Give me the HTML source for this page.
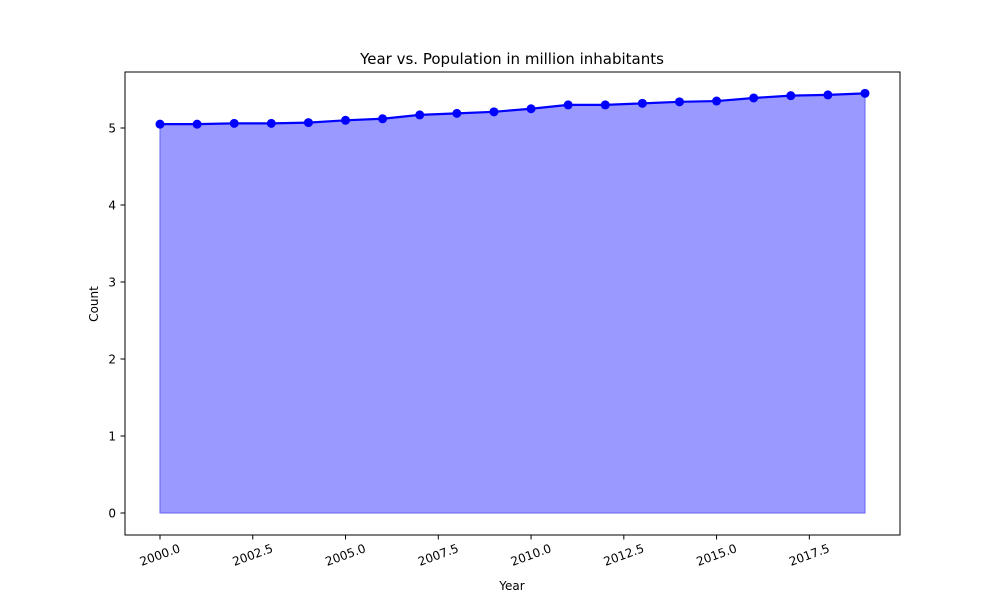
<!DOCTYPE html>
<html><head><meta charset="utf-8"><style>body{margin:0;background:#fff}svg text{font-family:"DejaVu Sans","Liberation Sans",sans-serif;fill:#000}</style></head>
<body>
<svg id="chart" width="1000" height="600">
<rect width="1000" height="600" fill="#fff"/>
<text x="512" y="64" text-anchor="middle" font-size="15">Year vs. Population in million inhabitants</text>
<g id="plot"></g>
<rect x="125" y="72" width="775" height="463" fill="none" stroke="#000" stroke-width="1"/>
<text x="512" y="590" text-anchor="middle" font-size="12">Year</text>
<text transform="translate(98,304) rotate(-90)" text-anchor="middle" font-size="12">Count</text>
</svg>
<script>
const years=[2000,2001,2002,2003,2004,2005,2006,2007,2008,2009,2010,2011,2012,2013,2014,2015,2016,2017,2018,2019];
const population=[5.05,5.05,5.06,5.06,5.07,5.10,5.12,5.17,5.19,5.21,5.25,5.30,5.30,5.32,5.34,5.35,5.39,5.42,5.43,5.45];
const xTicks=[2000,2002.5,2005,2007.5,2010,2012.5,2015,2017.5];
const yTicks=[0,1,2,3,4,5];
const NS="http://www.w3.org/2000/svg";
const sx=v=>160+(v-2000)*(705/19);
const sy=v=>513-v*77;
const g=document.getElementById('plot');
function mk(t,a){const e=document.createElementNS(NS,t);for(const k in a)e.setAttribute(k,a[k]);g.appendChild(e);return e;}
let d='M'+sx(years[0])+','+sy(0);
years.forEach((y,i)=>d+=' L'+sx(y)+','+sy(population[i]));
d+=' L'+sx(years[years.length-1])+','+sy(0)+' Z';
const area=mk('path',{d:d,fill:'#9999ff',stroke:'#6666ee','stroke-width':1});


const line=mk('polyline',{points:years.map((y,i)=>sx(y)+','+sy(population[i])).join(' '),fill:'none',stroke:'#0000ff','stroke-width':2.2});


years.forEach((y,i)=>{const c=mk('circle',{cx:sx(y),cy:sy(population[i]),r:4.5,fill:'#0000ff'});

});
xTicks.forEach(v=>{const x=sx(v);mk('line',{x1:x,x2:x,y1:535,y2:539.5,stroke:'#000'});
const t=mk('text',{x:x,y:559,'font-size':12,'text-anchor':'middle',transform:`rotate(-20 ${x} 555)`});t.textContent=v.toFixed(1);

});
yTicks.forEach(v=>{const y=sy(v);mk('line',{x1:120.5,x2:125,y1:y,y2:y,stroke:'#000'});
const t=mk('text',{x:116,y:y+4.5,'font-size':12,'text-anchor':'end'});t.textContent=v;

});
</script>
</body></html>
